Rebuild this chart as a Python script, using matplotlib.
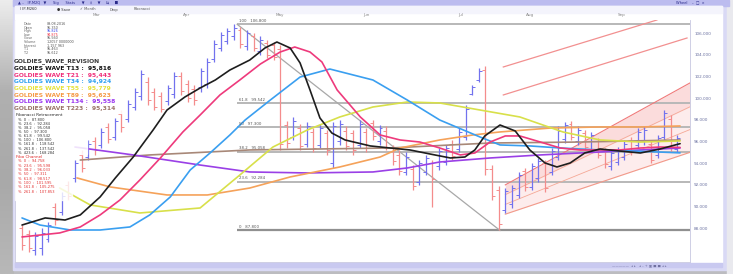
import matplotlib.pyplot as plt
from matplotlib.patches import Rectangle
from matplotlib.colors import LinearSegmentedColormap
import numpy as np

# ---- price bars (weekly OHLC) ----
highs = [88.3, 87.8, 87.7, 88.0, 88.6, 90.3, 91.3, 92.4, 94.3, 95.2,
         96.1, 96.4, 97.2, 97.7, 98.2, 98.9, 99.8, 100.9, 102.6, 101.9,
         100.9, 100.6, 101.2, 102.4, 102.4, 101.7, 101.2, 102.8, 103.7, 105.4,
         106.1, 106.5, 106.8, 106.6, 106.3, 106.0, 105.7, 105.4, 105.2, 104.9,
         97.9, 98.3, 97.6, 97.8, 97.2, 97.6, 97.1, 97.8, 98.0, 97.4,
         97.1, 98.0, 97.2, 98.0, 97.5, 97.4, 95.7, 95.2, 95.0, 93.8,
         94.3, 94.8, 94.3, 95.4, 95.7, 96.1, 97.2, 99.4, 101.2, 102.8,
         103.0, 93.8, 91.9, 91.7, 92.0, 93.2, 93.6, 94.0, 94.5, 94.3,
         95.4, 97.4, 97.8, 97.9, 97.4, 97.1, 96.9, 96.3, 95.4, 95.2,
         95.5, 96.1, 96.4, 97.2, 97.4, 96.1, 96.6, 98.9, 98.4, 96.6]
lows = [86.0, 85.8, 85.5, 85.5, 86.7, 88.3, 89.2, 90.6, 92.3, 93.2,
        94.3, 94.8, 95.4, 95.9, 96.1, 96.9, 97.8, 98.9, 99.8, 99.4,
        98.9, 98.7, 99.4, 100.0, 100.3, 99.6, 99.4, 100.6, 100.9, 103.3,
        104.3, 105.0, 105.4, 104.6, 104.4, 104.3, 104.0, 103.7, 103.5, 95.2,
        95.4, 96.1, 95.2, 95.5, 95.0, 95.4, 94.8, 93.6, 95.7, 95.2,
        94.8, 95.4, 95.0, 96.1, 95.7, 95.2, 93.8, 92.9, 92.9, 91.5,
        92.0, 92.9, 90.0, 93.4, 93.8, 94.3, 95.0, 96.1, 100.3, 101.5,
        92.9, 90.6, 87.8, 89.4, 89.9, 90.8, 91.4, 91.5, 92.3, 91.3,
        92.9, 94.3, 95.9, 96.1, 95.7, 95.2, 95.0, 94.5, 93.6, 93.4,
        93.8, 94.3, 94.8, 95.4, 95.7, 94.0, 94.5, 96.1, 95.0, 95.0]
opens = [88.0, 87.5, 86.0, 86.2, 87.0, 90.0, 89.5, 92.0, 92.6, 94.8,
         94.6, 96.0, 95.7, 97.3, 96.4, 98.5, 98.1, 99.2, 100.2, 101.5,
         100.6, 100.2, 99.7, 100.4, 102.0, 101.3, 100.8, 101.0, 101.3, 103.6,
         104.6, 105.3, 105.7, 106.3, 104.8, 105.7, 104.3, 105.1, 104.9, 104.5,
         97.5, 96.4, 97.2, 95.8, 96.9, 95.7, 96.8, 94.0, 96.0, 97.0,
         96.8, 95.7, 96.9, 97.7, 96.0, 97.0, 95.4, 94.8, 93.2, 93.5,
         92.3, 93.2, 94.0, 93.7, 94.1, 95.8, 95.3, 96.4, 100.4, 101.7,
         102.6, 93.5, 91.5, 89.7, 90.2, 91.1, 93.3, 91.8, 92.6, 94.0,
         93.2, 94.6, 96.2, 97.6, 96.0, 96.8, 95.3, 96.0, 95.1, 93.7,
         94.1, 94.6, 96.1, 95.7, 96.0, 95.8, 94.8, 96.4, 98.1, 95.3]
closes = [86.5, 86.2, 87.3, 87.6, 88.3, 88.8, 91.0, 91.0, 94.0, 93.6,
          95.8, 95.2, 96.9, 96.2, 97.9, 97.3, 99.5, 100.6, 102.2, 99.8,
          99.2, 99.0, 100.9, 102.0, 100.7, 100.0, 99.8, 102.5, 103.3, 105.0,
          105.8, 106.2, 106.5, 105.0, 106.0, 104.6, 105.4, 104.0, 103.8, 95.8,
          95.9, 97.9, 95.6, 97.4, 95.4, 97.2, 95.2, 97.4, 97.6, 95.6,
          95.2, 97.6, 95.4, 96.5, 97.2, 95.5, 94.2, 93.3, 94.6, 91.9,
          94.0, 94.5, 92.5, 95.1, 95.4, 94.7, 96.9, 99.0, 101.0, 102.5,
          93.5, 91.0, 88.4, 91.4, 91.7, 92.9, 91.8, 93.7, 94.2, 91.7,
          95.1, 97.0, 97.5, 96.4, 97.1, 95.5, 96.6, 94.8, 93.9, 94.9,
          95.2, 95.8, 95.1, 96.9, 97.1, 94.3, 96.3, 98.6, 95.4, 96.3]

# ---- Goldies wave curves (bar index, price) ----
t13_x = [0, 3.5, 6.5, 8.8, 11.8, 14.1, 16.8, 19.8, 21.9, 24.6, 26.9, 29.2, 31.4, 34.4,
         36.7, 38.5, 40.5, 42.0, 43.5, 45.0, 46.8, 48.8, 52.6, 55.6, 58.6, 61.6, 64.7,
         66.9, 68.4, 69.9, 72.2, 74.5, 76.7, 79.0, 80.8, 82.8, 85.0, 87.3, 90.3, 93.4,
         96.4, 99.4]
t13_y = [88.3, 88.95, 88.76, 89.23, 90.89, 92.64, 94.57, 97.06, 98.9, 100.1, 100.93,
         101.67, 102.59, 103.51, 104.62, 105.17, 104.62, 103.24, 100.75, 98.17, 96.78,
         96.14, 95.59, 95.4, 95.22, 94.85, 94.48, 94.57, 95.22, 96.51, 97.52, 96.97,
         95.22, 94.02, 93.65, 94.02, 94.94, 95.31, 95.12, 94.94, 95.31, 95.8]
t21_x = [0, 5.7, 8.8, 11.8, 14.8, 17.8, 20.9, 24.3, 26.9, 29.9, 32.9, 36.0, 39.0, 41.2,
         43.5, 45.3, 47.6, 51.1, 54.1, 57.1, 60.1, 63.1, 66.2, 68.4, 70.7, 73.0, 75.2,
         78.3, 81.3, 84.3, 87.3, 90.3, 93.4, 96.4, 99.4]
t21_y = [87.2, 87.57, 88.12, 89.23, 90.61, 92.45, 94.48, 96.88, 98.44, 100.29, 101.67,
         103.14, 104.25, 104.71, 104.25, 103.33, 100.75, 98.26, 96.6, 96.14, 95.95,
         95.4, 94.76, 94.94, 95.95, 96.51, 96.51, 95.95, 95.4, 95.22, 95.22, 95.22,
         95.4, 95.49, 95.45]
t34_x = [0, 2.7, 7.3, 11.8, 16.3, 19.3, 22.4, 25.4, 28.4, 31.4, 33.7, 37.5, 42.0, 46.5,
         53.0, 58.2, 63.1, 69.2, 72.2, 76.7, 81.3, 87.3, 93.4, 99.4]
t34_y = [88.95, 88.3, 87.84, 87.84, 88.12, 89.23, 90.89, 93.37, 94.94, 96.6, 97.98,
         99.82, 101.94, 102.68, 101.67, 99.82, 97.98, 96.41, 95.68, 95.59, 95.4, 95.22,
         95.1, 94.95]
t55_x = [5.7, 10.3, 17.8, 26.9, 32.9, 37.9, 43.1, 48.0, 53.0, 58.2, 63.1, 69.2, 75.2,
         81.7, 87.3, 93.4, 99.4]
t55_y = [91.71, 90.15, 89.41, 89.87, 92.91, 95.49, 97.06, 98.26, 99.18, 99.64, 99.55,
         98.9, 98.26, 96.88, 96.14, 95.95, 96.05]
t89_x = [8.3, 13.3, 21.9, 28.0, 34.4, 40.5, 48.0, 54.1, 57.1, 63.1, 68.1, 72.2, 79.8,
         87.3, 93.4, 99.4]
t89_y = [92.64, 91.81, 91.07, 91.07, 91.71, 92.73, 93.65, 94.57, 95.4, 96.14, 96.6,
         96.88, 97.24, 97.34, 97.34, 97.43]
t134_x = [8.0, 16.8, 26.9, 34.4, 43.1, 53.0, 58.2, 63.1, 70.7, 78.3, 87.3, 99.4]
t134_y = [95.49, 94.76, 93.83, 93.19, 93.1, 93.19, 93.56, 94.11, 94.48, 94.76, 95.03, 95.4]
t223_x = [8.8, 19.3, 34.4, 55.6, 70.7, 84.3, 99.4]
t223_y = [94.29, 94.76, 95.22, 95.4, 95.86, 95.95, 96.14]

# ---- Fibonacci retracement ----
fib_pct = ['100', '61.8', '50', '38.2', '23.6', '0']
fib_levels = [106.8, 99.542, 97.3, 95.058, 92.284, 87.8]
trend_x = [32.5, 72.2]
trend_y = [106.8, 87.8]

# ---- Fibo channel ----
chan_x = [73.0, 100.9]
chan_upper = [92.0, 101.4]
chan_lower = [89.3, 95.0]
chan_mid = [[90.2, 97.1], [91.1, 99.2]]
ext_lines = [([72.7, 95.9], [102.87, 107.2]), ([72.7, 100.45], [100.29, 105.54])]

month_pos = [11.3, 24.9, 39.0, 52.0, 66.2, 76.7, 90.6]
month_labels = ['Mar', 'Apr', 'May', 'Jun', 'Jul', 'Aug', 'Sep']
price_ticks = [88, 90, 92, 94, 96, 98, 100, 102, 104, 106]

legend_rows = [('GOLDIES_WAVE_REVISION', '#3a3a3a'),
               ('GOLDIES WAVE T13 :  95,816', '#111111'),
               ('GOLDIES WAVE T21 :  95,443', '#f0307a'),
               ('GOLDIES WAVE T34 :  94,924', '#2fa0f0'),
               ('GOLDIES WAVE T55 :  95,779', '#e6e23a'),
               ('GOLDIES WAVE T89 :  95,623', '#f59a45'),
               ('GOLDIES WAVE T134 :  95,558', '#9a35f0'),
               ('GOLDIES WAVE T223 :  95,314', '#9a7468')]
info_rows = [('Date', '09.08.2016', '#555555'), ('Open', '95.350', '#555555'),
             ('High', '95.826', '#3344ee'), ('Low', '94.875', '#ee3344'),
             ('Close', '95.560', '#555555'), ('Volume', '12057 0000000', '#555555'),
             ('Interest', '1.157 963', '#555555'), ('T1', '95.463', '#555555'),
             ('T2', '95.612', '#555555')]
fib_rows = ['%  0  :  87.800', '%  23.6  :  92.284', '%  38.2  :  95.058',
            '%  50  :  97.300', '%  61.8  :  99.542', '%  100  :  106.800',
            '%  161.8  :  118.542', '%  261.8  :  137.542', '%  423.6  :  168.284']
chan_rows = ['%  0  :  94.758', '%  23.6  :  95.598', '%  38.2  :  96.033',
             '%  50  :  97.311', '%  61.8  :  98.517', '%  100  :  101.595',
             '%  161.8  :  105.275', '%  261.8  :  107.853']

W, H = 733, 274
fig = plt.figure(figsize=(W / 100, H / 100), dpi=100)

# window chrome, drawn in pixel units
bg = fig.add_axes([0, 0, 1, 1])
bg.set_xlim(0, W)
bg.set_ylim(H, 0)
bg.axis('off')
bg.add_patch(Rectangle((0, 0), W, H, color='#bcbcc0', zorder=0))
side = LinearSegmentedColormap.from_list('side', ['#ececec', '#b0b0b0', '#a9a9a9', '#b8b8b8'])
grad = np.linspace(0, 1, 100).reshape(-1, 1)
bg.imshow(grad, extent=(0, 14, 274, 0), cmap=side, aspect='auto', zorder=1)
bg.add_patch(Rectangle((13, 0), 716, 270, color='#d9d9f5', zorder=1))
bg.add_patch(Rectangle((13, 0), 716, 5.5, color='#bcbcef', zorder=2))
bg.add_patch(Rectangle((15, 6), 707, 256, color='white', zorder=2))
bg.add_patch(Rectangle((15, 6), 707, 7, color='#f4f4fc', zorder=2))
bg.add_patch(Rectangle((15, 263), 707, 4, color='#c9c9f0', zorder=2))
bg.add_patch(Rectangle((727, 0), 6, 274, color='#e9e9ee', zorder=1))
bg.text(18, 2.8, '\u25b2 ..   IP-M2Q   \u25bc      Sig      Stats      \u25bc     \u2021     \u25bc     \u21c6     \u25a0',
        fontsize=2.6, color='#2a2a8a', va='center', zorder=3)
bg.text(676, 2.8, 'Wheel    \u2013  \u25a1  \u00d7', fontsize=2.6, color='#2a2a8a', va='center', zorder=3)
bg.text(20, 9.5, 'I IP-M260', fontsize=2.6, color='#333333', va='center', zorder=3)
bg.text(57, 9.5, '\u25cf Save', fontsize=2.6, color='#333333', va='center', zorder=3)
bg.text(80, 9.5, '\u2713 Month', fontsize=2.6, color='#555555', va='center', zorder=3)
bg.text(110, 9.5, 'Drop', fontsize=2.6, color='#555555', va='center', zorder=3)
bg.text(134, 9.5, 'Fibonacci', fontsize=2.6, color='#555555', va='center', zorder=3)
bg.text(612, 265, '\u2014\u2014\u2014\u2014\u2014  \u25c2 \u25b8   \u25c2 \u2013 + \u25a3 \u25a0 \u25a0 \u25c2 \u25b8',
        fontsize=2.4, color='#7070a0', va='center', zorder=3)

# main chart
x0, x1, ytop, ybot = 15, 690, 20, 262
ax = fig.add_axes([x0 / W, 1 - ybot / H, (x1 - x0) / W, (ybot - ytop) / H])
ax.set_zorder(5)
ax.set_xlim(-1.06, 100.9)
ax.set_ylim(84.89, 107.2)
for s in ax.spines.values():
    s.set_color('#c8c8e0')
    s.set_linewidth(0.6)
ax.spines['top'].set_visible(False)
ax.yaxis.tick_right()
ax.set_yticks(price_ticks)
ax.set_yticklabels([f'{v:.3f}' for v in price_ticks], fontsize=3.0, color='#6a70a0')
ax.tick_params(axis='y', length=0, pad=3)
ax.set_xticks([])
for p, lab in zip(month_pos, month_labels):
    ax.text(p, 1.013, lab, transform=ax.get_xaxis_transform(), fontsize=3.0,
            color='#888888', ha='center', va='bottom', clip_on=False)

idx = np.arange(len(highs))
colors = ['#7272ee' if c >= o else '#f48c8c' for o, c in zip(opens, closes)]
ax.vlines(idx, lows, highs, colors=colors, lw=0.9, zorder=4)
ax.hlines(opens, idx - 0.45, idx, colors=colors, lw=0.7, zorder=4)
ax.hlines(closes, idx, idx + 0.45, colors=colors, lw=0.7, zorder=4)

# fibonacci retracement
ax.hlines(fib_levels, 32.5, 100.9, colors='#b8b8b8', lw=1.4, zorder=2)
ax.hlines(fib_levels[-1], 32.5, 100.9, colors='#909090', lw=1.6, zorder=2)
ax.plot(trend_x, trend_y, color='#a8a8a8', lw=0.9, zorder=3)
for pct, lev in zip(fib_pct, fib_levels):
    ax.text(32.8, lev + 0.12, f'{pct}   {lev:.3f}', fontsize=2.8, color='#555555',
            ha='left', va='bottom', zorder=6)

# fibo channel
ax.fill_between(chan_x, chan_lower, chan_upper, color='#f48a8a', alpha=0.16, lw=0, zorder=1)
ax.fill_between(chan_x, chan_mid[1], chan_upper, color='#f48a8a', alpha=0.16, lw=0, zorder=1)
ax.plot(chan_x, chan_upper, color='#f07a7a', lw=0.8, zorder=2)
ax.plot(chan_x, chan_lower, color='#f29a8a', lw=0.8, zorder=2)
for m in chan_mid:
    ax.plot(chan_x, m, color='#f5a896', lw=0.6, zorder=2)
for lx, ly in ext_lines:
    ax.plot(lx, ly, color='#f29090', lw=0.9, zorder=2)

# goldies waves
waves = [(t223_x, t223_y, '#a88878'), (t134_x, t134_y, '#9a40e6'),
         (t89_x, t89_y, '#f5a25a'), (t55_x, t55_y, '#d8e04a'),
         (t34_x, t34_y, '#3a9ff0'), (t21_x, t21_y, '#ee3a7c'),
         (t13_x, t13_y, '#1e1e1e')]
for wx, wy, c in waves:
    ax.plot(wx, wy, color=c, lw=1.2, zorder=5, solid_joinstyle='round',
            solid_capstyle='round')

# legend / info panels (pixel units on an overlay)
ov = fig.add_axes([0, 0, 1, 1])
ov.set_zorder(10)
ov.set_xlim(0, W)
ov.set_ylim(H, 0)
ov.axis('off')
ov.add_patch(Rectangle((15, 20), 110, 93, color='white', alpha=0.88))
ov.add_patch(Rectangle((15, 113), 72, 41, color='white', alpha=0.85))
ov.add_patch(Rectangle((15, 154), 57, 46, color='white', alpha=0.8))
for k, (lab, val, c) in enumerate(info_rows):
    ov.text(24, 24 + k * 3.6, lab, fontsize=2.4, color='#666666', va='center')
    ov.text(47, 24 + k * 3.6, val, fontsize=2.4, color=c, va='center')
for k, (txt, c) in enumerate(legend_rows):
    ov.text(13.5, 61.5 + k * 6.75, txt, fontsize=4.3, fontweight='bold', color=c, va='center')
ov.text(16, 115.5, 'Fibonacci Retracement', fontsize=2.9, color='#222222', va='center')
for k, txt in enumerate(fib_rows):
    ov.text(18, 119.8 + k * 4.1, txt, fontsize=2.6, color='#333333', va='center')
ov.text(16, 157, 'Fibo Channel', fontsize=2.9, color='#e02626', va='center')
for k, txt in enumerate(chan_rows):
    ov.text(18, 161.5 + k * 4.3, txt, fontsize=2.6, color='#e23030', va='center')

fig.savefig('out.png', dpi=100)
